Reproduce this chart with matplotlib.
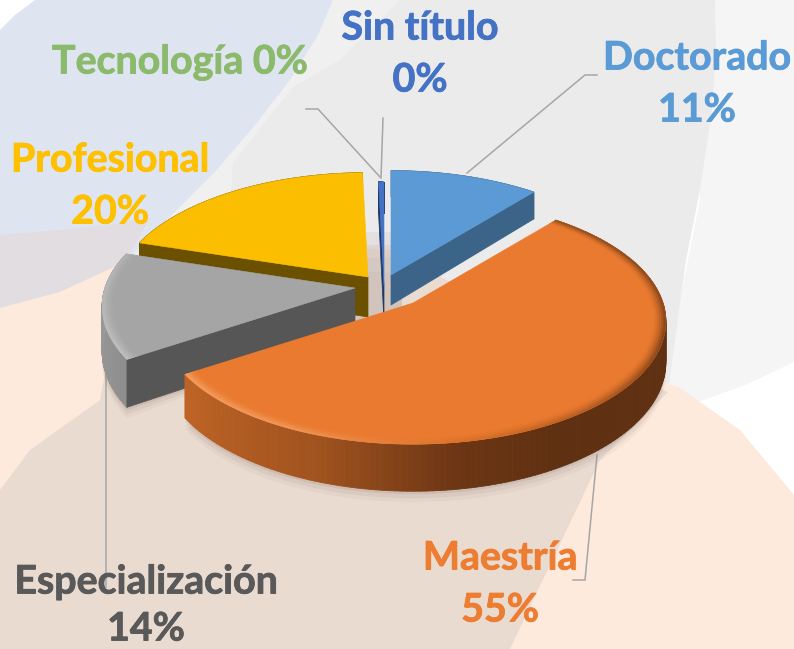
import numpy as np
import matplotlib
matplotlib.use("Agg")
import matplotlib.pyplot as plt
import matplotlib.patheffects as pe
from matplotlib.collections import PolyCollection
from matplotlib.colors import to_rgb
from matplotlib.patches import Polygon

# ---- data ----
categories = ["Doctorado", "Maestría", "Especialización", "Profesional", "Tecnología", "Sin título"]
values = [11, 54.8, 14, 19.8, 0.0, 0.4]
pct_labels = ["11%", "55%", "14%", "20%", "0%", "0%"]

# ---- styling / layout ----
W, H = 794, 649
top_colors = {"Doctorado": "#5b9ad4", "Maestría": "#ea7a2f", "Especialización": "#a5a5a5",
              "Profesional": "#fcbe00", "Tecnología": "#70ad47", "Sin título": "#4472c4"}
face_colors = {"Doctorado": "#3c6388", "Maestría": "#8a4a1d", "Especialización": "#565656",
               "Profesional": "#6b5000", "Tecnología": "#3f6128", "Sin título": "#1f3864"}
text_colors = {"Doctorado": "#5b9bd5", "Maestría": "#ed7d31", "Especialización": "#595959",
               "Profesional": "#ffc000", "Tecnología": "#8cba6c", "Sin título": "#4472c4"}
apex = {"Doctorado": (391, 275), "Maestría": (413, 303), "Especialización": (355, 288),
        "Profesional": (368, 277), "Tecnología": (384, 286), "Sin título": (384, 286)}
depths = {"Doctorado": 30, "Maestría": 40, "Especialización": 44, "Profesional": 40, "Sin título": 36}
visible_face = {"Doctorado": "end", "Especialización": "start", "Profesional": "start", "Sin título": "start"}
wall_stops = {
    "Doctorado": ([0, 40], ["#3c6388", "#3c6388"]),
    "Maestría": ([40, 150, 172, 200, 240], ["#5f3011", "#5f3011", "#6d3614", "#a2541f", "#c26526"]),
    "Especialización": ([236, 288], ["#8e8e8e", "#a0a0a0"]),
    "Profesional": ([287, 360], ["#6b5000", "#6b5000"]),
    "Sin título": ([358, 360], ["#1f3864", "#1f3864"]),
}
rim_stops = {
    "Maestría": ([40, 110, 170, 205, 240], ["#8a4a1d", "#7c3f17", "#d87028", "#f29a5c", "#f6a266"]),
    "Especialización": ([236, 288], ["#c4c4c4", "#b4b4b4"]),
}
F, G, P = 250, 120, 0.15
draw_order = ["Profesional", "Doctorado", "Especialización", "Sin título", "Maestría"]


def project(theta_deg, a, r=1.0):
    t = np.radians(theta_deg)
    X, Y = r * np.sin(t), -r * np.cos(t)
    s = 1 / (1 - P * Y)
    return a[0] + F * X * s, a[1] + G * Y * s, s


def lerp_stops(th, stops):
    xs, cs = stops
    rgb = np.array([to_rgb(c) for c in cs])
    return np.array([np.interp(th, xs, rgb[:, i]) for i in range(3)]).T


fig = plt.figure(figsize=(W / 100, H / 100), dpi=100)
ax = fig.add_axes([0, 0, 1, 1])
ax.set_xlim(0, W)
ax.set_ylim(H, 0)
ax.axis("off")


def bg(points, color, z, alpha=None):
    ax.add_patch(Polygon(points, fc=color, ec="none", zorder=z, alpha=alpha))


# ---- background shapes ----
fig.patch.set_facecolor("white")
bg([(700, 0), (794, 0), (794, 362), (745, 385), (690, 405), (660, 400), (700, 200)], "#f5f5f5", 0)
bg([(300, 0), (715, 0), (716, 50), (712, 110), (700, 190), (686, 260), (675, 340), (668, 392), (600, 460),
    (510, 649), (0, 649), (0, 300), (130, 200), (240, 120)], "#ebebeb", 0.1)
bg([(250, 0), (400, 0), (340, 60), (293, 87), (233, 163), (230, 205), (190, 225), (100, 260), (100, 100)],
   "#f0f0f0", 0.15)
bg([(35, 0), (333, 0), (318, 35), (290, 80), (255, 125), (215, 172), (165, 222), (125, 262), (60, 292), (0, 308),
    (0, 30), (15, 15)], "#dfe5f0", 0.2)
bg([(0, 235), (60, 230), (110, 225), (150, 218), (125, 262), (60, 292), (0, 308)], "#e1dde0", 0.25)
bg([(0, 308), (60, 292), (125, 262), (200, 240), (390, 250), (560, 340), (680, 388), (740, 430),
    (794, 495), (794, 649), (0, 649)], "#fdeadd", 0.3)
bg([(0, 490), (30, 450), (100, 400), (125, 262), (200, 240), (390, 250), (560, 340), (668, 392), (600, 460),
    (510, 649), (0, 649)], "#eadbd1", 0.35)
for top, alpha in [(232, 0.25), (245, 0.35), (258, 0.5), (272, 0.7)]:
    bg([(352, top), (402, top), (402, 330), (352, 330)], "#cfc3bc", 0.4, alpha)

# ---- leader lines beneath the pie ----
line_kw = dict(color="#a6a6a6", lw=1.1, solid_joinstyle="miter")
ax.plot([597, 585, 467], [75, 75, 173], zorder=1, **line_kw)
ax.plot([383, 381], [118, 178], zorder=1, **line_kw)
ax.plot([306, 318, 380], [109, 109, 177], zorder=1, **line_kw)
ax.plot([597, 585, 573], [455, 580, 580], zorder=1, **line_kw)
ax.plot([106, 106], [375, 587], zorder=1, **line_kw)

# ---- pie ----
edges = np.concatenate([[0], np.cumsum(values)]) / np.sum(values) * 360
spans = {c: (edges[i], edges[i + 1]) for i, c in enumerate(categories)}

# soft shadow under the front of the pie
for grow, alpha in [(11, 0.06), (7, 0.09), (3, 0.12)]:
    for name in ["Maestría", "Especialización"]:
        a0, a1 = spans[name]
        th = np.linspace(a0, a1, 120)
        x, y, s = project(th, apex[name])
        d = depths[name]
        ax.fill(np.r_[x, apex[name][0]], np.r_[y + d * s + grow, apex[name][1] + d],
                color="#7d6557", alpha=alpha, lw=0, zorder=1.5)

z = 2.0
for name in draw_order:
    a0, a1 = spans[name]
    a = apex[name]
    d = depths[name]
    th = np.linspace(a0, a1, 160)
    x, y, s = project(th, a)
    # outer wall
    if name in wall_stops:
        cols = lerp_stops((th[:-1] + th[1:]) / 2, wall_stops[name])
        quads = [[(x[i], y[i]), (x[i + 1], y[i + 1]),
                  (x[i + 1], y[i + 1] + d * s[i + 1]), (x[i], y[i] + d * s[i])] for i in range(len(th) - 1)]
        ax.add_collection(PolyCollection(quads, facecolors=cols, edgecolors=cols, linewidths=0.6, zorder=z))
    # cut face
    side = visible_face.get(name)
    if side:
        fx, fy, fs = project(a0 if side == "start" else a1, a)
        fx, fy, fs = float(fx), float(fy), float(fs)
        ax.add_patch(Polygon([a, (fx, fy), (fx, fy + d * fs), (a[0], a[1] + d)],
                             fc=face_colors[name], ec=face_colors[name], lw=0.5, zorder=z + 0.1))
    # top surface
    ax.add_patch(Polygon(np.c_[np.r_[a[0], x], np.r_[a[1], y]], fc=top_colors[name], ec=top_colors[name], lw=0.4, zorder=z + 0.2))
    # bevel
    if name in rim_stops:
        radii = np.linspace(0.95, 1.0, 7)
        rim = lerp_stops((th[:-1] + th[1:]) / 2, rim_stops[name])
        base = np.array(to_rgb(top_colors[name]))
        quads, cols = [], []
        for k in range(len(radii) - 1):
            t = ((k + 0.5) / (len(radii) - 1)) ** 1.6
            xi, yi, _ = project(th, a, radii[k])
            xo, yo, _ = project(th, a, radii[k + 1])
            for i in range(len(th) - 1):
                quads.append([(xi[i], yi[i]), (xi[i + 1], yi[i + 1]), (xo[i + 1], yo[i + 1]), (xo[i], yo[i])])
                cols.append(base * (1 - t) + rim[i] * t)
        ax.add_collection(PolyCollection(quads, facecolors=cols, edgecolors=cols, linewidths=0.3, zorder=z + 0.3))
    z += 1

# ---- labels ----
font = dict(family="Lato", weight="bold", fontsize=28.3, ha="center", va="center", zorder=20)
label_at = {"Doctorado": (697, 58), "Maestría": (500, 558), "Especialización": (146, 582),
            "Profesional": (110, 160), "Sin título": (420, 28)}
pct_gap = {"Doctorado": 52, "Maestría": 52, "Especialización": 47, "Profesional": 52, "Sin título": 52}


def put_text(tx, ty, s, c):
    ax.text(tx, ty, s, color=c, path_effects=[pe.withStroke(linewidth=0.6, foreground=c)], **font)


for name, (tx, ty) in label_at.items():
    c = text_colors[name]
    put_text(tx, ty, name, c)
    put_text(tx, ty + pct_gap[name], pct_labels[categories.index(name)], c)
put_text(180, 62, f"Tecnología {pct_labels[categories.index('Tecnología')]}", text_colors["Tecnología"])

fig.savefig("out.png", dpi=100, facecolor="white")
